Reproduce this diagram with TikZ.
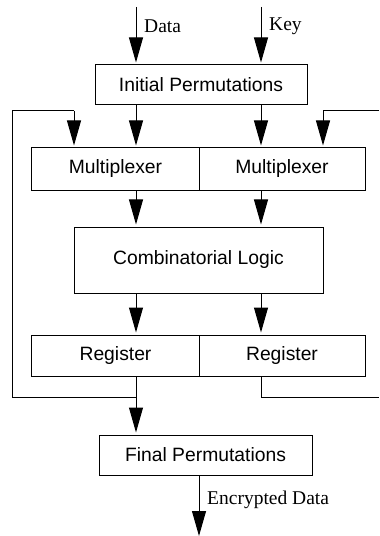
\documentclass[tikz,border=0pt]{standalone}
\usepackage{fontspec}
\setmainfont{Liberation Serif}
\setsansfont{Liberation Sans}
\usetikzlibrary{arrows.meta}
\tikzset{
  block/.style={draw, line width=1bp, inner sep=0pt, font=\sffamily\fontsize{19.3bp}{23bp}\selectfont},
  flow/.style={line width=1bp, -{Triangle[length=25bp,width=14bp]}, shorten >=2bp},
  wire/.style={line width=1bp},
  tag/.style={anchor=west, inner sep=0pt, font=\fontsize{19.5bp}{23bp}\selectfont}
}
\begin{document}
\begin{tikzpicture}[x=1bp, y=-1bp]
\useasboundingbox (0,0) rectangle (379,536);

% Define coordinates
\coordinate (datain) at (136,7);
\coordinate (keyin) at (261,7);
\coordinate (fbL) at (74,111);
\coordinate (fbR) at (323,111);
\coordinate (loopL) at (12,397);
\coordinate (loopR) at (379,397);
\coordinate (out) at (199,536);

% Blocks
\node[block, minimum width=212bp, minimum height=40bp] (ip) at (201,85) {Initial Permutations};
\node[block, minimum width=167bp, minimum height=42bp] (muxL) at (115.5,169) {Multiplexer};
\node[block, minimum width=166bp, minimum height=42bp] (muxR) at (282,169) {Multiplexer};
\node[block, minimum width=249bp, minimum height=66bp] (comb) at (198.5,260) {Combinatorial Logic};
\node[block, minimum width=167bp, minimum height=41bp] (regL) at (115.5,355.5) {Register};
\node[block, minimum width=166bp, minimum height=41bp] (regR) at (282,355.5) {Register};
\node[block, minimum width=213bp, minimum height=40bp] (fp) at (205.5,455) {Final Permutations};

% Inputs
\draw[flow] (datain) -- (ip.north -| datain);
\draw[flow] (keyin) -- (ip.north -| keyin);
\node[tag] (data) at (144,26) {Data};
\node[tag] (key) at (269,26) {Key};

% Data path
\draw[flow] (ip.south -| datain) -- (muxL.north -| datain);
\draw[flow] (ip.south -| keyin) -- (muxR.north -| keyin);
\draw[flow] (muxL.south -| datain) -- (comb.north -| datain);
\draw[flow] (muxR.south -| keyin) -- (comb.north -| keyin);
\draw[flow] (comb.south -| datain) -- (regL.north -| datain);
\draw[flow] (comb.south -| keyin) -- (regR.north -| keyin);
\draw[flow] (regL.south -| datain) -- (fp.north -| datain);

% Feedback loops
\draw[wire] (regL.south -| datain) |- (loopL) |- (fbL);
\draw[flow] (fbL) -- (muxL.north -| fbL);
\draw[wire] (regR.south -| keyin) |- (loopR);
\draw[flow] (fbR -| loopR) -- (fbR) -- (muxR.north -| fbR);

% Output
\draw[flow, shorten >=0pt] (fp.south -| out) -- (out);
\node[tag] (enc) at (207,500) {Encrypted Data};

\end{tikzpicture}
\end{document}
